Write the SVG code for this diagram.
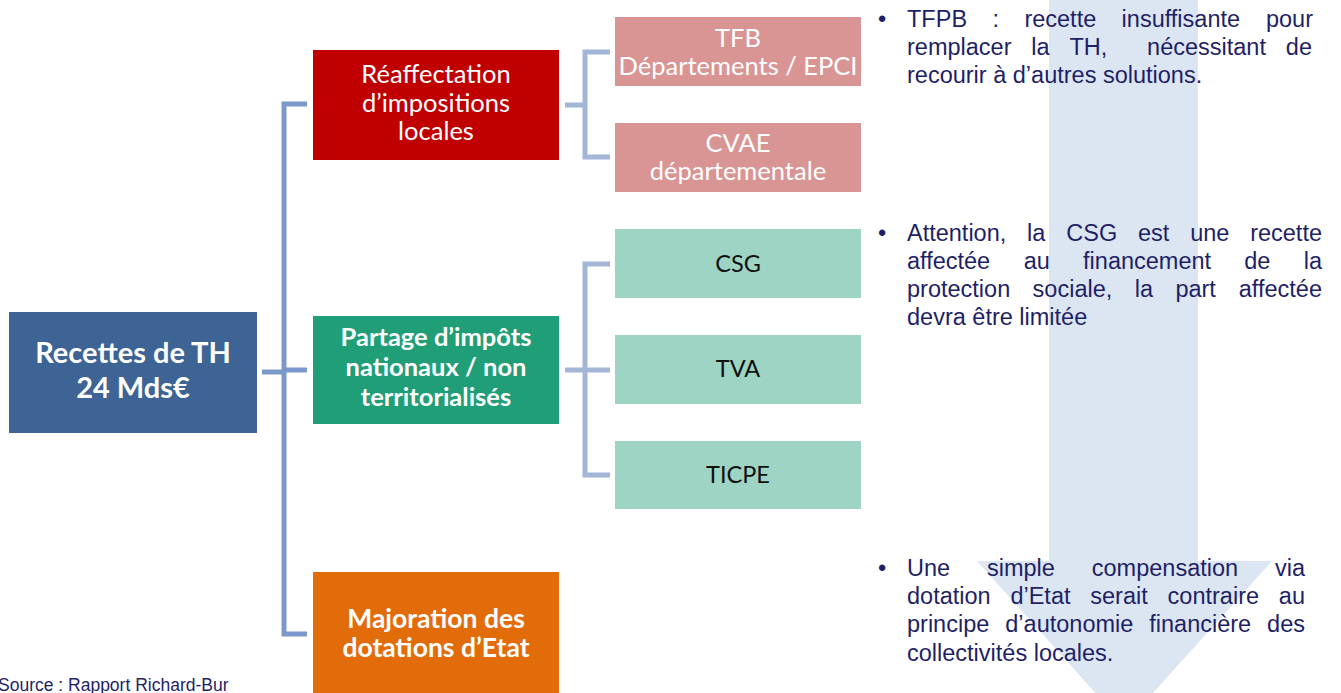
<svg xmlns="http://www.w3.org/2000/svg" width="1341" height="693" viewBox="0 0 1341 693">
<style>
.nt{font-family:Lato,"Open Sans","Liberation Sans",sans-serif;text-anchor:middle}
.w{fill:#ffffff}
.b{font-weight:bold}
.k{fill:#111111}
.bt{font-family:"Liberation Sans",Arial,sans-serif;font-size:23.5px;fill:#1F1F66}
.e{text-anchor:end}
.c1{fill:none;stroke:#7C98CB;stroke-width:5}
.c2{fill:none;stroke:#A4B6D8;stroke-width:5}
</style>
<rect width="1341" height="693" fill="#ffffff"/>
<g id="arrow">
<polygon points="1049,0 1198,0 1198,561 1272,561 1124,725 977,561 1049,561" fill="#DCE6F2"/>
</g>
<g id="connectors">
<path class="c1" d="M262,372 H284 M307,104 H284 V634 H307 M284,370 H307"/>
<path class="c2" d="M565,105 H585 M610,52 H585 V157 H610"/>
<path class="c2" d="M565,370 H585 M610,264 H585 V475 H610 M585,370 H610"/>
</g>
<g id="root">
<rect x="9" y="312" width="248" height="121" fill="#3D6494"/>
<text class="nt w b" x="133" y="363" font-size="29">Recettes de TH</text>
<text class="nt w b" x="133" y="398" font-size="29">24 Mds€</text>
</g>
<g id="reaffectation">
<rect x="313" y="50" width="246" height="110" fill="#C00000"/>
<text class="nt w" x="436" y="83" font-size="25.5">Réaffectation</text>
<text class="nt w" x="436" y="112" font-size="25.5">d’impositions</text>
<text class="nt w" x="436" y="140" font-size="25.5">locales</text>
</g>
<g id="partage">
<rect x="313" y="316" width="246" height="108" fill="#209E77"/>
<text class="nt w b" x="436" y="346" font-size="25.5">Partage d’impôts</text>
<text class="nt w b" x="436" y="376" font-size="25.5">nationaux / non</text>
<text class="nt w b" x="436" y="406" font-size="25.5">territorialisés</text>
</g>
<g id="majoration">
<rect x="313" y="572" width="246" height="125" fill="#E36C0A"/>
<text class="nt w b" x="436" y="628" font-size="26.5">Majoration des</text>
<text class="nt w b" x="436" y="657" font-size="26.5">dotations d’Etat</text>
</g>
<g id="tfb">
<rect x="615" y="17" width="246" height="69" fill="#D99594"/>
<text class="nt w" x="738" y="47" font-size="25.5">TFB</text>
<text class="nt w" x="738" y="75" font-size="25.5">Départements / EPCI</text>
</g>
<g id="cvae">
<rect x="615" y="123" width="246" height="69" fill="#D99594"/>
<text class="nt w" x="738" y="152" font-size="25.5">CVAE</text>
<text class="nt w" x="738" y="180" font-size="25.5">départementale</text>
</g>
<g id="csg">
<rect x="615" y="229" width="246" height="69" fill="#9DD4C3"/>
<text class="nt k" x="738" y="272" font-size="23.5">CSG</text>
</g>
<g id="tva">
<rect x="615" y="335" width="246" height="69" fill="#9DD4C3"/>
<text class="nt k" x="738" y="377" font-size="23.5">TVA</text>
</g>
<g id="ticpe">
<rect x="615" y="441" width="246" height="68" fill="#9DD4C3"/>
<text class="nt k" x="738" y="483" font-size="23.5">TICPE</text>
</g>
<g id="note1">
<text class="bt" x="878" y="27">•</text>
<text class="bt" x="907" y="27">TFPB</text>
<text class="bt" x="992.5" y="27">:</text>
<text class="bt" x="1024.4" y="27">recette</text>
<text class="bt" x="1121.6" y="27">insuffisante</text>
<text class="bt e" x="1313" y="27">pour</text>
<text class="bt" x="907" y="55">remplacer</text>
<text class="bt" x="1031.3" y="55">la</text>
<text class="bt" x="1069.5" y="55">TH,</text>
<text class="bt" x="1147.1" y="55">nécessitant</text>
<text class="bt e" x="1312" y="55">de</text>
<text class="bt" x="907" y="83">recourir à d’autres solutions.</text>
</g>
<g id="note2">
<text class="bt" x="878" y="240.5">•</text>
<text class="bt" x="907" y="240.5">Attention,</text>
<text class="bt" x="1027.1" y="240.5">la</text>
<text class="bt" x="1066.3" y="240.5">CSG</text>
<text class="bt" x="1138" y="240.5">est</text>
<text class="bt" x="1190.2" y="240.5">une</text>
<text class="bt e" x="1322" y="240.5">recette</text>
<text class="bt" x="907" y="269">affectée</text>
<text class="bt" x="1023.8" y="269">au</text>
<text class="bt" x="1083.1" y="269">financement</text>
<text class="bt" x="1244.3" y="269">de</text>
<text class="bt e" x="1322" y="269">la</text>
<text class="bt" x="907" y="297">protection</text>
<text class="bt" x="1032.6" y="297">sociale,</text>
<text class="bt" x="1134.7" y="297">la</text>
<text class="bt" x="1175.4" y="297">part</text>
<text class="bt e" x="1322" y="297">affectée</text>
<text class="bt" x="907" y="325">devra être limitée</text>
</g>
<g id="note3">
<text class="bt" x="878" y="576">•</text>
<text class="bt" x="907" y="576">Une</text>
<text class="bt" x="987" y="576">simple</text>
<text class="bt" x="1091.8" y="576">compensation</text>
<text class="bt e" x="1305" y="576">via</text>
<text class="bt" x="907" y="604">dotation</text>
<text class="bt" x="1010.4" y="604">d’Etat</text>
<text class="bt" x="1090.3" y="604">serait</text>
<text class="bt" x="1167.6" y="604">contraire</text>
<text class="bt e" x="1305" y="604">au</text>
<text class="bt" x="907" y="632">principe</text>
<text class="bt" x="1005.3" y="632">d’autonomie</text>
<text class="bt" x="1149.3" y="632">financière</text>
<text class="bt e" x="1305" y="632">des</text>
<text class="bt" x="907" y="661">collectivités locales.</text>
</g>
<g id="source">
<text x="-2" y="691" font-family="'Liberation Sans',Arial,sans-serif" font-size="17.5" fill="#1F1F66">Source : Rapport Richard-Bur</text>
</g>
</svg>
